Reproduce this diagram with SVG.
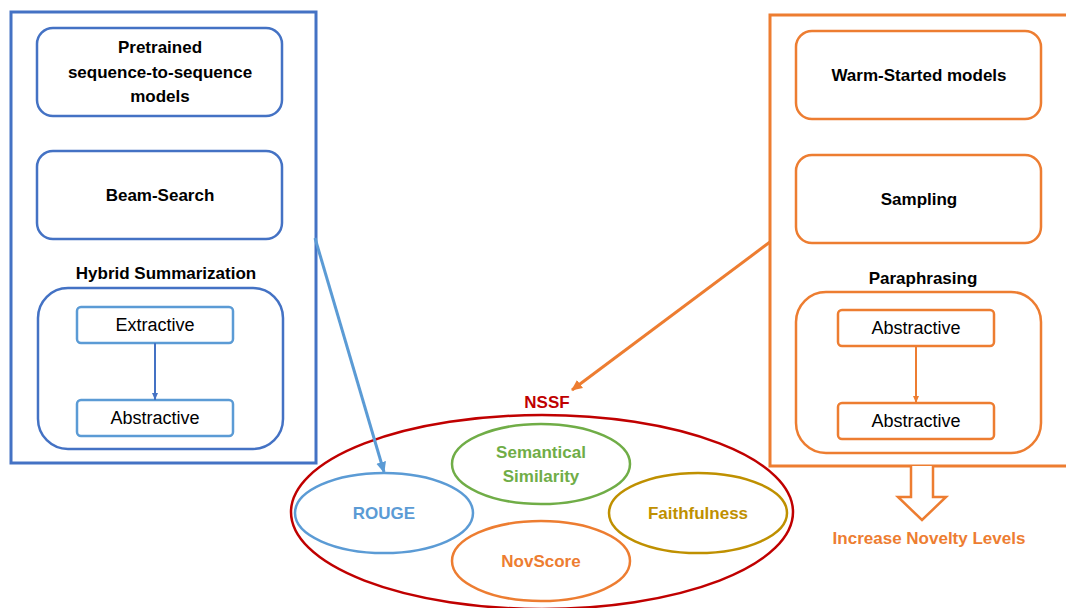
<svg xmlns="http://www.w3.org/2000/svg" width="1066" height="608" viewBox="0 0 1066 608">
<style>
text{font-family:"Liberation Sans","Open Sans",sans-serif;text-anchor:middle;dominant-baseline:central}
.b{font-weight:bold;font-size:17px;fill:#000}
.r{font-size:18px;fill:#000}
.m{font-size:17px;font-weight:bold}
.bl{fill:#fff;stroke:#4472C4;stroke-width:2.5}
.bls{fill:#fff;stroke:#5B9BD5;stroke-width:2.5}
.or{fill:#fff;stroke:#ED7D31;stroke-width:2.5}
</style>
<defs>
<marker id="ab" markerWidth="12" markerHeight="12" refX="10" refY="6" orient="auto" markerUnits="userSpaceOnUse"><path d="M0,1 L11,6 L0,11 Z" fill="#5B9BD5"/></marker>
<marker id="ab2" markerWidth="8" markerHeight="8" refX="7" refY="4" orient="auto" markerUnits="userSpaceOnUse"><path d="M0,1 L7,4 L0,7 Z" fill="#4472C4"/></marker>
<marker id="ao" markerWidth="12" markerHeight="12" refX="10" refY="6" orient="auto" markerUnits="userSpaceOnUse"><path d="M0,1 L11,6 L0,11 Z" fill="#ED7D31"/></marker>
<marker id="ao2" markerWidth="8" markerHeight="8" refX="7" refY="4" orient="auto" markerUnits="userSpaceOnUse"><path d="M0,1 L7,4 L0,7 Z" fill="#ED7D31"/></marker>
</defs>
<rect width="1066" height="608" fill="#fff"/>

<g id="left-group">
<rect x="11" y="12" width="305" height="451" fill="none" stroke="#4472C4" stroke-width="3"/>
</g>
<g id="pretrained"><rect class="bl" x="37" y="28" width="245" height="88" rx="16"/>
<text class="b" x="160" y="47">Pretrained</text><text class="b" x="160" y="72">sequence-to-sequence</text><text class="b" x="160" y="96">models</text></g>
<g id="beam"><rect class="bl" x="37" y="151" width="245" height="88" rx="16"/><text class="b" x="160" y="195">Beam-Search</text></g>
<g id="hybrid"><text class="b" x="166" y="273">Hybrid Summarization</text>
<rect class="bl" x="38" y="288" width="245" height="161" rx="30"/></g>
<g id="extractive"><rect class="bls" x="77" y="307" width="156" height="36" rx="4"/><text class="r" x="155" y="325">Extractive</text></g>
<g id="abstractive-l"><rect class="bls" x="77" y="400" width="156" height="36" rx="4"/><text class="r" x="155" y="418">Abstractive</text></g>

<g id="right-group">
<rect x="770" y="15" width="310" height="451" fill="none" stroke="#ED7D31" stroke-width="3"/>
</g>
<g id="warm"><rect class="or" x="796" y="31" width="245" height="88" rx="16"/><text class="b" x="919" y="75">Warm-Started models</text></g>
<g id="sampling"><rect class="or" x="796" y="155" width="245" height="88" rx="16"/><text class="b" x="919" y="199">Sampling</text></g>
<g id="paraphrasing"><text class="b" x="923" y="278">Paraphrasing</text>
<rect class="or" x="796" y="292" width="245" height="161" rx="30"/></g>
<g id="abstractive-r1"><rect class="or" x="838" y="310" width="156" height="36" rx="4"/><text class="r" x="916" y="328">Abstractive</text></g>
<g id="abstractive-r2"><rect class="or" x="838" y="403" width="156" height="36" rx="4"/><text class="r" x="916" y="421">Abstractive</text></g>

<g id="nssf">
<ellipse cx="542" cy="512" rx="251" ry="97" fill="none" stroke="#C00000" stroke-width="2.5"/>
<text class="m" x="547" y="402" fill="#C00000">NSSF</text>
</g>
<g id="rouge"><ellipse cx="384" cy="513" rx="89" ry="40" fill="none" stroke="#5B9BD5" stroke-width="2.5"/><text class="m" x="384" y="513" fill="#5B9BD5">ROUGE</text></g>
<g id="semantic"><ellipse cx="541" cy="464" rx="89" ry="40" fill="none" stroke="#70AD47" stroke-width="2.5"/><text class="m" x="541" y="452" fill="#70AD47">Semantical</text><text class="m" x="541" y="476" fill="#70AD47">Similarity</text></g>
<g id="faith"><ellipse cx="698" cy="513" rx="89" ry="40" fill="none" stroke="#BF9000" stroke-width="2.5"/><text class="m" x="698" y="513" fill="#BF9000">Faithfulness</text></g>
<g id="novscore"><ellipse cx="541" cy="561" rx="89" ry="40" fill="none" stroke="#ED7D31" stroke-width="2.5"/><text class="m" x="541" y="561" fill="#ED7D31">NovScore</text></g>

<g id="novelty">
<path d="M911,466 V497 H898 L922,520 L946,497 H933 V466" fill="#fff" stroke="#ED7D31" stroke-width="2.5" stroke-linejoin="miter"/>
<text class="m" x="929" y="538" fill="#ED7D31">Increase Novelty Levels</text>
</g>

<g id="connectors">
<line x1="155" y1="343" x2="155" y2="400" stroke="#4472C4" stroke-width="2" marker-end="url(#ab2)"/>
<line x1="916" y1="346" x2="916" y2="403" stroke="#ED7D31" stroke-width="2" marker-end="url(#ao2)"/>
<line x1="315" y1="238" x2="384" y2="472" stroke="#5B9BD5" stroke-width="3" marker-end="url(#ab)"/>
<line x1="770" y1="242" x2="572" y2="390" stroke="#ED7D31" stroke-width="3" marker-end="url(#ao)"/>
</g>
</svg>
